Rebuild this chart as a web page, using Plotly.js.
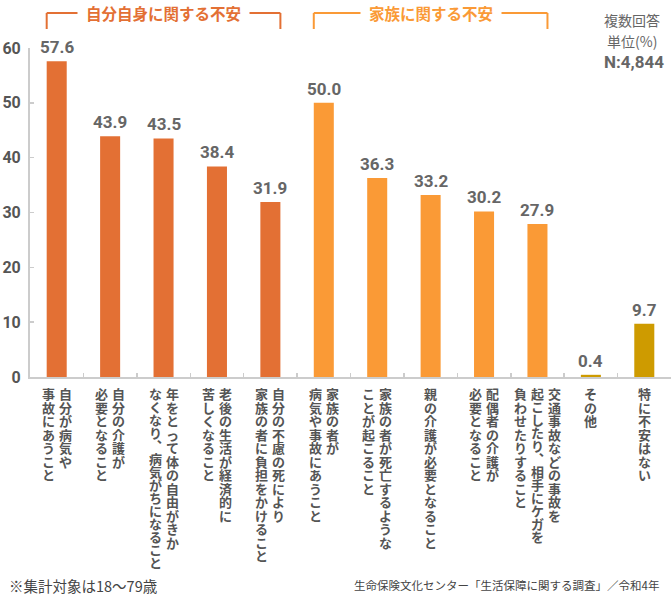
<!DOCTYPE html>
<html>
<head>
<meta charset="utf-8">
<script src="https://cdn.plot.ly/plotly-3.0.1.min.js"></script>
<style>html,body{margin:0;padding:0;background:#fff;}#chart{width:672px;height:598px;}</style>
</head>
<body>
<div id="chart"></div>
<script>
// ---- data ----
const categories = [
  "自分が病気や|事故にあうこと",
  "自分の介護が|必要となること",
  "年をとって体の自由がきか|なくなり︑病気がちになること",
  "老後の生活が経済的に|苦しくなること",
  "自分の不慮の死により|家族の者に負担をかけること",
  "家族の者が|病気や事故にあうこと",
  "家族の者が死亡するような|ことが起こること",
  "親の介護が必要となること",
  "配偶者の介護が|必要となること",
  "交通事故などの事故を|起こしたり︑相手にケガを|負わせたりすること",
  "その他",
  "特に不安はない"
];
const values = [57.6, 43.9, 43.5, 38.4, 31.9, 50.0, 36.3, 33.2, 30.2, 27.9, 0.4, 9.7];
const groups = ["self","self","self","self","self","family","family","family","family","family","other","other"];
const groupTitles = {self: "自分自身に関する不安", family: "家族に関する不安"};
const yTicks = [0, 10, 20, 30, 40, 50, 60];
const noteTopRight = ["複数回答", "単位(%)", "N:4,844"];
const footLeft = "※集計対象は18〜79歳";
const footRight = "生命保険文化センター「生活保障に関する調査」／令和4年";

// ---- styles ----
const colors = {self: "#E37034", family: "#FA9A36", other: "#CE9B00"};
const W = 672, H = 598, L = 30, R = 1, T = 48, B = 221;
const PW = W - L - R, PH = H - T - B;
const px = x => (x - L) / PW;
const py = y => (H - B - y) / PH;
const jp = '"Noto Sans CJK JP", "Noto Sans", sans-serif';
const num = 'Roboto, "DejaVu Sans", sans-serif';
const BARW = 0.375;

const annotations = [];
const shapes = [];

// value labels
values.forEach((v, i) => {
  annotations.push({
    x: i, y: v, xref: "x", yref: "y", text: v.toFixed(1), showarrow: false,
    xanchor: "center", yanchor: "bottom", yshift: 2,
    font: {family: num, size: 17, color: "#666", weight: 700}
  });
});

// vertical category labels: one annotation per column (columns right-to-left).
// line pitch = 1.3 * base font size; characters drawn at a larger span size.
const glyph = 13, colGap = 17;
categories.forEach((lab, i) => {
  const cols = lab.split("|");
  const n = cols.length;
  cols.forEach((col, c) => {
    const xoff = ((n - 1) / 2 - c) * colGap;
    const chars = Array.from(col);
    const pitch = col.includes("︑") ? 13.0 : 13.5;
    const txt = chars.map(ch => '<span style="font-size:' + glyph + 'px">' + ch + '</span>').join("<br>");
    annotations.push({
      x: i, y: 0, xref: "x", yref: "y", text: txt, showarrow: false,
      xanchor: "center", yanchor: "top", align: "center",
      xshift: xoff, yshift: -5,
      font: {family: jp, size: pitch / 1.3, color: "#555", weight: 700}
    });
  });
});

// group brackets
["self", "family"].forEach(g => {
  const idx = groups.map((gg, i) => gg === g ? i : -1).filter(i => i >= 0);
  const x0 = idx[0] - BARW / 2, x1 = idx[idx.length - 1] + BARW / 2;
  const line = {color: colors[g], width: 2};
  shapes.push({type: "line", xref: "x", yref: "paper", x0: x0, x1: x1, y0: py(13), y1: py(13), line});
  shapes.push({type: "line", xref: "x", yref: "paper", x0: x0, x1: x0, y0: py(13), y1: py(29), line});
  shapes.push({type: "line", xref: "x", yref: "paper", x0: x1, x1: x1, y0: py(13), y1: py(29), line});
  annotations.push({
    x: (idx[0] + idx[idx.length - 1]) / 2, xref: "x", y: py(13), yref: "paper",
    text: groupTitles[g], showarrow: false, xanchor: "center", yanchor: "middle",
    bgcolor: "#fff", borderpad: 8,
    font: {family: jp, size: 15.5, color: colors[g], weight: 700}
  });
});

// top-right notes
annotations.push({x: px(632), y: py(20), xref: "paper", yref: "paper", text: noteTopRight[0], showarrow: false,
  xanchor: "center", yanchor: "middle", font: {family: jp, size: 14, color: "#666"}});
annotations.push({x: px(632), y: py(41), xref: "paper", yref: "paper", text: noteTopRight[1], showarrow: false,
  xanchor: "center", yanchor: "middle", font: {family: jp, size: 14, color: "#666"}});
annotations.push({x: px(634), y: py(62), xref: "paper", yref: "paper", text: noteTopRight[2], showarrow: false,
  xanchor: "center", yanchor: "middle", font: {family: num, size: 17, color: "#666", weight: 700}});

// footers
annotations.push({x: px(7), y: py(585), xref: "paper", yref: "paper", text: footLeft, showarrow: false,
  xanchor: "left", yanchor: "middle", font: {family: jp, size: 14.5, color: "#444"}});
annotations.push({x: px(661), y: py(585), xref: "paper", yref: "paper", text: footRight, showarrow: false,
  xanchor: "right", yanchor: "middle", font: {family: jp, size: 11.5, color: "#444"}});

const trace = {
  type: "bar",
  x: categories.map((_, i) => i),
  y: values,
  width: BARW,
  marker: {color: groups.map(g => colors[g]), line: {width: 0}},
  hoverinfo: "none"
};

const layout = {
  width: W, height: H,
  margin: {l: L, r: R, t: T, b: B, pad: 0},
  paper_bgcolor: "#fff", plot_bgcolor: "#fff",
  showlegend: false,
  xaxis: {
    type: "linear", range: [-0.5, categories.length - 0.5],
    tickvals: categories.map((_, i) => i + 0.5),
    showticklabels: false, ticks: "inside", ticklen: 4, tickwidth: 1.5, tickcolor: "#ccc",
    showline: true, linecolor: "#ccc", linewidth: 2, showgrid: false, zeroline: false, fixedrange: true
  },
  yaxis: {
    range: [0, 60], tickvals: yTicks, ticktext: yTicks.map(String),
    ticks: "inside", ticklen: 4, tickwidth: 1.5, tickcolor: "#ccc", ticklabelstandoff: 4,
    showline: true, linecolor: "#ccc", linewidth: 2, showgrid: false, zeroline: false,
    tickfont: {family: num, size: 16, color: "#555", weight: 700}, fixedrange: true
  },
  annotations, shapes
};

Plotly.newPlot("chart", [trace], layout, {displayModeBar: false, staticPlot: true});
</script>
</body>
</html>
